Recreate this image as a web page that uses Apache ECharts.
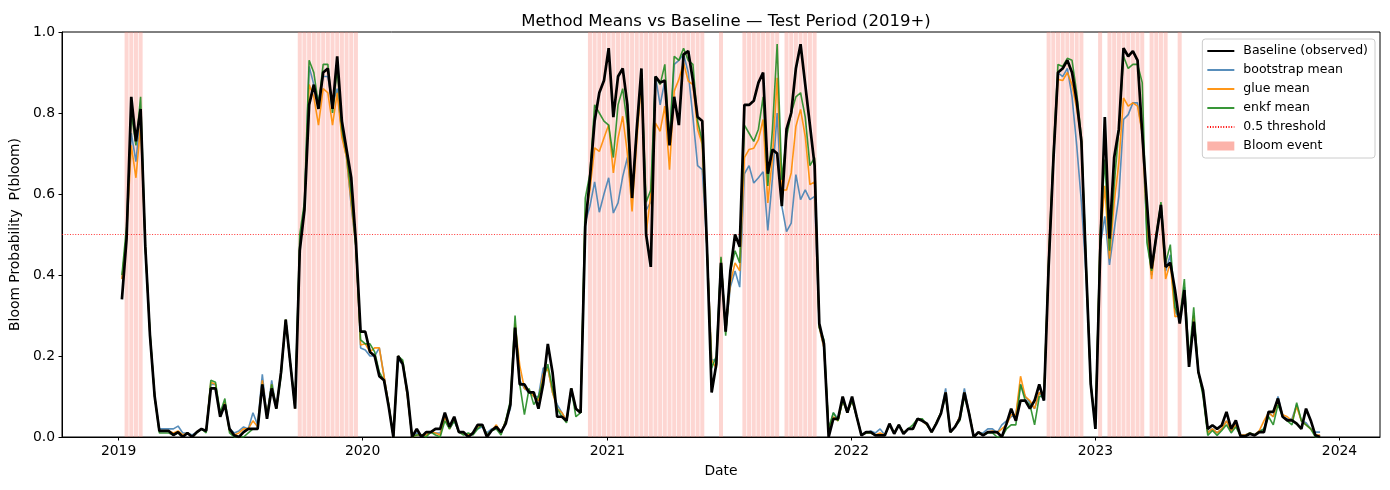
<!DOCTYPE html>
<html>
<head>
<meta charset="utf-8">
<title>Method Means vs Baseline</title>
<script src="https://cdn.jsdelivr.net/npm/echarts@6.0.0/dist/echarts.min.js"></script>
<style>
  html, body { margin: 0; padding: 0; background: #fff; }
  #chart { width: 1390px; height: 490px; }
</style>
</head>
<body>
<div id="chart"></div>
<script>
// weekly values of the test period, first week starts 2019-01-06
const startWeek = '2019-01-06'

const baseline = [
  0.34, 0.49, 0.84, 0.73, 0.81, 0.47, 0.25, 0.10, 0.015, 0.015,
  0.015, 0.005, 0.012, 0.0, 0.01, 0.0, 0.012, 0.02, 0.015, 0.12,
  0.12, 0.05, 0.08, 0.02, 0.004, 0.0, 0.012, 0.02, 0.02, 0.02,
  0.13, 0.045, 0.12, 0.07, 0.16, 0.29, 0.18, 0.07, 0.46, 0.56,
  0.82, 0.87, 0.81, 0.90, 0.91, 0.81, 0.94, 0.78, 0.71, 0.64,
  0.48, 0.26, 0.26, 0.21, 0.20, 0.15, 0.14, 0.075, 0.0, 0.20,
  0.18, 0.11, 0.0, 0.02, 0.0, 0.012, 0.012, 0.02, 0.02, 0.06,
  0.025, 0.05, 0.012, 0.012, 0.0, 0.01, 0.03, 0.03, 0.0, 0.016,
  0.025, 0.012, 0.033, 0.08, 0.27, 0.13, 0.13, 0.11, 0.11, 0.07,
  0.13, 0.23, 0.16, 0.05, 0.05, 0.04, 0.12, 0.07, 0.06, 0.52,
  0.64, 0.78, 0.85, 0.88, 0.96, 0.79, 0.89, 0.91, 0.82, 0.59,
  0.76, 0.91, 0.50, 0.42, 0.89, 0.875, 0.88, 0.72, 0.84, 0.77,
  0.945, 0.953, 0.88, 0.79, 0.78, 0.47, 0.11, 0.18, 0.43, 0.26,
  0.41, 0.50, 0.47, 0.82, 0.82, 0.83, 0.875, 0.90, 0.65, 0.71,
  0.70, 0.57, 0.76, 0.80, 0.91, 0.97, 0.87, 0.77, 0.67, 0.28,
  0.23, 0.0, 0.045, 0.045, 0.10, 0.06, 0.10, 0.05, 0.004, 0.012,
  0.012, 0.004, 0.004, 0.004, 0.033, 0.008, 0.03, 0.008, 0.02, 0.02,
  0.045, 0.04, 0.033, 0.012, 0.033, 0.058, 0.11, 0.012, 0.025, 0.045,
  0.11, 0.058, 0.0, 0.012, 0.004, 0.012, 0.012, 0.012, 0.0, 0.033,
  0.07, 0.04, 0.09, 0.09, 0.07, 0.09, 0.13, 0.09, 0.42, 0.68,
  0.90, 0.91, 0.93, 0.90, 0.83, 0.73, 0.42, 0.13, 0.02, 0.45,
  0.79, 0.49, 0.69, 0.76, 0.96, 0.94, 0.953, 0.93, 0.75, 0.58,
  0.416, 0.495, 0.573, 0.42, 0.43, 0.363, 0.28, 0.363, 0.173, 0.285,
  0.16, 0.115, 0.02, 0.029, 0.02, 0.029, 0.062, 0.02, 0.041, 0.002,
  0.002, 0.008, 0.004, 0.012, 0.012, 0.062, 0.062, 0.095, 0.05, 0.041,
  0.041, 0.033, 0.02, 0.07, 0.041, 0.004, 0.0
]

const bootstrapMean = [
  0.39, 0.50, 0.75, 0.68, 0.80, 0.47, 0.25, 0.10, 0.02, 0.02,
  0.02, 0.02, 0.027, 0.01, 0.01, 0.005, 0.012, 0.02, 0.015, 0.13,
  0.13, 0.05, 0.085, 0.02, 0.01, 0.015, 0.025, 0.02, 0.06, 0.03,
  0.155, 0.05, 0.14, 0.07, 0.16, 0.29, 0.18, 0.07, 0.48, 0.57,
  0.915, 0.87, 0.83, 0.89, 0.89, 0.82, 0.86, 0.75, 0.69, 0.57,
  0.47, 0.22, 0.215, 0.20, 0.20, 0.22, 0.15, 0.08, 0.0, 0.19,
  0.18, 0.10, 0.0, 0.01, 0.005, 0.005, 0.012, 0.01, 0.01, 0.05,
  0.02, 0.04, 0.012, 0.01, 0.005, 0.01, 0.02, 0.025, 0.01, 0.02,
  0.025, 0.01, 0.04, 0.07, 0.27, 0.14, 0.12, 0.11, 0.10, 0.10,
  0.17, 0.17, 0.11, 0.08, 0.06, 0.04, 0.11, 0.07, 0.06, 0.53,
  0.57, 0.63, 0.555, 0.60, 0.64, 0.553, 0.578, 0.643, 0.69, 0.59,
  0.75, 0.88, 0.56, 0.58, 0.89, 0.82, 0.88, 0.73, 0.92, 0.93,
  0.945, 0.90, 0.79, 0.67, 0.66, 0.47, 0.19, 0.19, 0.44, 0.26,
  0.37, 0.41, 0.37, 0.65, 0.67, 0.627, 0.64, 0.655, 0.51, 0.64,
  0.80, 0.57, 0.507, 0.528, 0.648, 0.586, 0.61, 0.586, 0.594, 0.27,
  0.22, 0.02, 0.06, 0.045, 0.09, 0.06, 0.09, 0.05, 0.005, 0.01,
  0.015, 0.01, 0.02, 0.005, 0.03, 0.01, 0.03, 0.01, 0.02, 0.02,
  0.045, 0.04, 0.03, 0.012, 0.035, 0.06, 0.12, 0.012, 0.025, 0.05,
  0.12, 0.06, 0.0, 0.01, 0.01, 0.02, 0.02, 0.01, 0.03, 0.04,
  0.05, 0.055, 0.13, 0.10, 0.085, 0.07, 0.11, 0.09, 0.42, 0.68,
  0.90, 0.89, 0.91, 0.84, 0.72, 0.58, 0.40, 0.13, 0.03, 0.47,
  0.545, 0.425, 0.51, 0.594, 0.784, 0.796, 0.825, 0.825, 0.75, 0.50,
  0.40, 0.49, 0.57, 0.41, 0.45, 0.31, 0.29, 0.37, 0.19, 0.30,
  0.16, 0.11, 0.012, 0.02, 0.01, 0.02, 0.04, 0.015, 0.03, 0.005,
  0.005, 0.01, 0.005, 0.015, 0.02, 0.06, 0.05, 0.10, 0.05, 0.045,
  0.045, 0.08, 0.04, 0.035, 0.02, 0.012, 0.012
]

const glueMean = [
  0.39, 0.50, 0.72, 0.64, 0.77, 0.47, 0.25, 0.10, 0.015, 0.015,
  0.015, 0.01, 0.015, 0.005, 0.01, 0.0, 0.012, 0.02, 0.015, 0.135,
  0.13, 0.05, 0.085, 0.015, 0.005, 0.01, 0.02, 0.02, 0.04, 0.025,
  0.14, 0.05, 0.13, 0.07, 0.16, 0.29, 0.18, 0.07, 0.47, 0.56,
  0.87, 0.84, 0.77, 0.86, 0.85, 0.77, 0.85, 0.74, 0.69, 0.58,
  0.47, 0.227, 0.23, 0.21, 0.22, 0.22, 0.15, 0.08, 0.0, 0.20,
  0.185, 0.10, 0.0, 0.005, 0.005, 0.005, 0.012, 0.01, 0.005, 0.05,
  0.02, 0.045, 0.012, 0.01, 0.005, 0.01, 0.025, 0.03, 0.005, 0.016,
  0.03, 0.01, 0.04, 0.08, 0.28, 0.177, 0.12, 0.115, 0.10, 0.09,
  0.155, 0.17, 0.11, 0.07, 0.06, 0.04, 0.12, 0.07, 0.06, 0.55,
  0.61, 0.714, 0.705, 0.738, 0.771, 0.652, 0.738, 0.792, 0.70, 0.557,
  0.73, 0.88, 0.50, 0.60, 0.775, 0.755, 0.817, 0.66, 0.854, 0.883,
  0.924, 0.879, 0.87, 0.76, 0.722, 0.47, 0.19, 0.17, 0.44, 0.26,
  0.38, 0.43, 0.41, 0.69, 0.71, 0.713, 0.734, 0.784, 0.578, 0.69,
  0.887, 0.61, 0.61, 0.652, 0.767, 0.809, 0.742, 0.623, 0.63, 0.27,
  0.22, 0.02, 0.05, 0.04, 0.09, 0.06, 0.09, 0.05, 0.005, 0.01,
  0.01, 0.005, 0.01, 0.005, 0.03, 0.01, 0.03, 0.01, 0.02, 0.02,
  0.045, 0.04, 0.03, 0.012, 0.035, 0.06, 0.11, 0.012, 0.025, 0.05,
  0.11, 0.06, 0.0, 0.01, 0.005, 0.012, 0.015, 0.01, 0.02, 0.03,
  0.055, 0.055, 0.15, 0.10, 0.09, 0.07, 0.11, 0.10, 0.43, 0.68,
  0.883, 0.88, 0.90, 0.87, 0.81, 0.734, 0.42, 0.13, 0.03, 0.48,
  0.62, 0.44, 0.578, 0.677, 0.837, 0.817, 0.825, 0.817, 0.75, 0.52,
  0.39, 0.50, 0.57, 0.39, 0.43, 0.297, 0.30, 0.35, 0.18, 0.30,
  0.16, 0.11, 0.01, 0.02, 0.01, 0.02, 0.04, 0.015, 0.03, 0.005,
  0.005, 0.01, 0.005, 0.015, 0.04, 0.06, 0.05, 0.09, 0.055, 0.05,
  0.04, 0.075, 0.04, 0.03, 0.02, 0.005, 0.005
]

const enkfMean = [
  0.40, 0.52, 0.80, 0.72, 0.84, 0.47, 0.26, 0.10, 0.01, 0.01,
  0.01, 0.005, 0.01, 0.0, 0.01, 0.0, 0.01, 0.02, 0.01, 0.14,
  0.135, 0.06, 0.095, 0.01, 0.0, 0.0, 0.0, 0.01, 0.02, 0.02,
  0.13, 0.05, 0.13, 0.07, 0.15, 0.29, 0.18, 0.08, 0.50, 0.58,
  0.93, 0.90, 0.82, 0.92, 0.92, 0.80, 0.91, 0.76, 0.70, 0.60,
  0.47, 0.24, 0.23, 0.23, 0.21, 0.16, 0.14, 0.08, 0.0, 0.20,
  0.19, 0.11, 0.0, 0.005, 0.005, 0.0, 0.012, 0.005, 0.0, 0.04,
  0.02, 0.04, 0.012, 0.005, 0.01, 0.005, 0.02, 0.03, 0.005, 0.016,
  0.02, 0.005, 0.04, 0.09, 0.30, 0.13, 0.055, 0.12, 0.08, 0.10,
  0.14, 0.18, 0.12, 0.07, 0.05, 0.035, 0.12, 0.05, 0.06, 0.59,
  0.65, 0.82, 0.80, 0.78, 0.77, 0.69, 0.82, 0.86, 0.77, 0.59,
  0.76, 0.90, 0.58, 0.61, 0.89, 0.87, 0.92, 0.73, 0.94, 0.93,
  0.96, 0.93, 0.92, 0.78, 0.73, 0.47, 0.17, 0.20, 0.445, 0.25,
  0.41, 0.46, 0.43, 0.77, 0.75, 0.73, 0.76, 0.84, 0.62, 0.76,
  0.97, 0.635, 0.74, 0.80, 0.84, 0.85, 0.79, 0.67, 0.69, 0.27,
  0.24, 0.02, 0.06, 0.04, 0.09, 0.06, 0.09, 0.05, 0.005, 0.01,
  0.01, 0.005, 0.005, 0.005, 0.03, 0.01, 0.03, 0.01, 0.02, 0.03,
  0.045, 0.045, 0.03, 0.012, 0.035, 0.06, 0.10, 0.012, 0.025, 0.04,
  0.10, 0.06, 0.0, 0.01, 0.005, 0.01, 0.01, 0.0, 0.0, 0.02,
  0.03, 0.03, 0.13, 0.09, 0.08, 0.03, 0.10, 0.10, 0.44, 0.70,
  0.92, 0.915, 0.935, 0.93, 0.85, 0.74, 0.43, 0.13, 0.03, 0.50,
  0.685, 0.46, 0.62, 0.76, 0.94, 0.91, 0.92, 0.92, 0.875, 0.48,
  0.41, 0.50, 0.58, 0.43, 0.475, 0.32, 0.29, 0.39, 0.19, 0.32,
  0.16, 0.10, 0.004, 0.016, 0.004, 0.016, 0.03, 0.01, 0.025, 0.002,
  0.002, 0.01, 0.005, 0.012, 0.02, 0.05, 0.03, 0.08, 0.05, 0.04,
  0.03, 0.085, 0.04, 0.03, 0.02, 0.0, 0.0
]

// week indices (0 = first week) flagged as observed bloom events
const bloomWeeks = [
  1, 2, 3, 4,
  38, 39, 40, 41, 42, 43, 44, 45, 46, 47, 48, 49, 50,
  100, 101, 102, 103, 104, 105, 106, 107, 108, 109, 110, 111, 112,
  113, 114, 115, 116, 117, 118, 119, 120, 121, 122, 123, 124,
  128,
  133, 134, 135, 136, 137, 138, 139, 140,
  142, 143, 144, 145, 146, 147, 148,
  198, 199, 200, 201, 202, 203, 204, 205,
  209,
  211, 212, 213, 214, 215, 216, 217, 218,
  220, 221, 222, 223,
  226
]

const yearTicks = ['2019-01-01', '2020-01-01', '2021-01-01', '2022-01-01', '2023-01-01', '2024-01-01']
const threshold = 0.5

const DAY = 86400000
const FONT = 'DejaVu Sans'

const t0 = Date.parse(startWeek)
const weekTimes = baseline.map((_, i) => t0 + i * 7 * DAY)
const span = weekTimes[weekTimes.length - 1] - weekTimes[0]
const xMin = weekTimes[0] - span * 0.05
const xMax = weekTimes[weekTimes.length - 1] + span * 0.05
const tickTimes = yearTicks.map(d => Date.parse(d))

const toPairs = values => values.map((v, i) => [weekTimes[i], v])

const lineSeries = (name, values, color, width, opacity, z) => ({
    name,
    type: 'line',
    data: toPairs(values),
    showSymbol: false,
    symbol: 'none',
    z,
    color,
    lineStyle: { color, width, opacity },
    emphasis: { disabled: true }
})

const chart = echarts.init(document.getElementById('chart'))
chart.setOption({
    animation: false,
    backgroundColor: '#fff',
    title: {
        text: 'Method Means vs Baseline — Test Period (2019+)',
        left: 721,
        top: 8,
        textAlign: 'center',
        textStyle: { fontFamily: FONT, fontSize: 16.5, fontWeight: 'normal', color: '#000' }
    },
    grid: {
        left: 62, right: 10, top: 32, bottom: 53,
        show: true, borderColor: '#000', borderWidth: 1, backgroundColor: 'transparent'
    },
    legend: {
        orient: 'vertical',
        right: 15,
        top: 39,
        padding: [5, 7, 5, 4],
        itemWidth: 27,
        itemHeight: 9,
        itemGap: 5,
        borderColor: '#cccccc',
        borderWidth: 1,
        borderRadius: 3,
        backgroundColor: 'rgba(255,255,255,0.8)',
        selectedMode: false,
        // line items get no marker dot, only the line
        itemStyle: { opacity: 0 },
        textStyle: { fontFamily: FONT, fontSize: 12.5, color: '#000', lineHeight: 14, padding: [0, 0, 0, 4] },
        data: [
            'Baseline (observed)', 'bootstrap mean', 'glue mean', 'enkf mean', '0.5 threshold',
            { name: 'Bloom event', icon: 'rect', itemStyle: { opacity: 1, color: 'rgba(250,128,114,0.6)' } }
        ]
    },
    xAxis: {
        type: 'value',
        min: xMin,
        max: xMax,
        name: 'Date',
        nameLocation: 'middle',
        nameGap: 27,
        nameTextStyle: { fontFamily: FONT, fontSize: 13.9, color: '#000' },
        axisLine: { lineStyle: { color: '#000', width: 1 } },
        axisTick: { show: true, length: 3.5, lineStyle: { color: '#000' }, customValues: tickTimes },
        axisLabel: {
            customValues: tickTimes,
            margin: 7,
            fontFamily: FONT,
            fontSize: 13.9,
            color: '#000',
            formatter: v => String(new Date(v).getUTCFullYear())
        },
        splitLine: { show: false }
    },
    yAxis: {
        type: 'value',
        min: 0,
        max: 1,
        interval: 0.2,
        name: 'Bloom Probability  P(bloom)',
        nameLocation: 'middle',
        nameGap: 40,
        nameTextStyle: { fontFamily: FONT, fontSize: 13.9, color: '#000' },
        axisLine: { show: true, lineStyle: { color: '#000', width: 1 } },
        axisTick: { show: true, length: 3.5, lineStyle: { color: '#000' } },
        axisLabel: {
            margin: 7,
            fontFamily: FONT,
            fontSize: 13.9,
            color: '#000',
            formatter: v => v.toFixed(1)
        },
        splitLine: { show: false }
    },
    series: [
        {
            name: 'Bloom event',
            type: 'line',
            data: [],
            z: 1,
            color: 'rgba(250,128,114,0.6)',
            itemStyle: { color: 'rgba(250,128,114,0.6)' },
            markArea: {
                silent: true,
                itemStyle: { color: 'rgba(250,128,114,0.32)' },
                data: bloomWeeks.map(i => [
                    { xAxis: weekTimes[i] - 3 * DAY },
                    { xAxis: weekTimes[i] + 3 * DAY }
                ])
            }
        },
        {
            name: '0.5 threshold',
            type: 'line',
            data: [],
            z: 2,
            color: 'red',
            lineStyle: { color: 'red', width: 1, type: [1, 1.65] },
            markLine: {
                silent: true,
                symbol: 'none',
                label: { show: false },
                lineStyle: { color: 'red', width: 1, type: [1, 1.65], opacity: 0.8 },
                data: [{ yAxis: threshold }]
            }
        },
        lineSeries('bootstrap mean', bootstrapMean, '#4682b4', 1.6, 0.9, 3),
        lineSeries('glue mean', glueMean, '#ff8c00', 1.6, 0.9, 4),
        lineSeries('enkf mean', enkfMean, '#228b22', 1.6, 0.9, 5),
        lineSeries('Baseline (observed)', baseline, '#000', 2.7, 1, 6)
    ]
})
</script>
</body>
</html>
